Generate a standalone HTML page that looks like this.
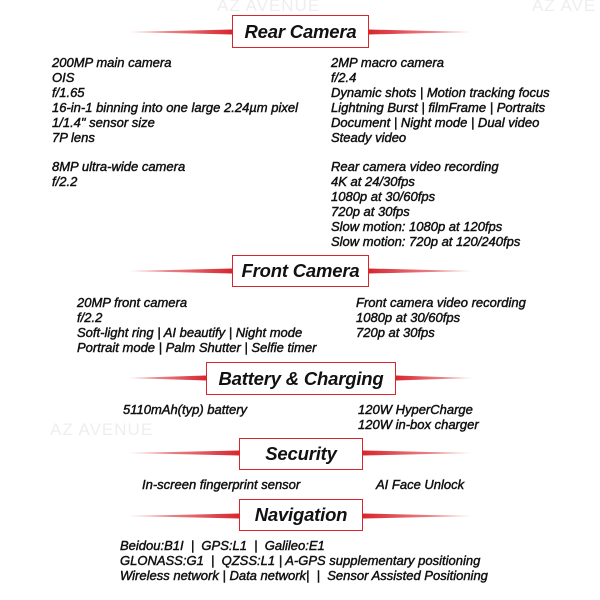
<!DOCTYPE html>
<html><head><meta charset="utf-8"><style>
body{margin:0;width:600px;height:600px;background:#fff;position:relative;overflow:hidden;font-family:"Liberation Sans",sans-serif;}
.t{position:absolute;font-style:italic;font-size:13px;line-height:15px;color:#111;-webkit-text-stroke:0.45px #111;white-space:nowrap;letter-spacing:0px}
.box{position:absolute;border:1.5px solid #d8262e;background:#fff;box-sizing:border-box;display:flex;align-items:center;justify-content:center;font-style:italic;font-weight:bold;font-size:18.5px;color:#111;letter-spacing:-0.2px}
.wm{position:absolute;color:#eee;font-size:17px;letter-spacing:1px}
svg{position:absolute;left:0;top:0}
</style></head><body>
<div class="wm" style="left:217px;top:-4px">AZ AVENUE</div>
<div class="wm" style="left:532px;top:-4px">AZ AVE</div>
<div class="wm" style="left:50px;top:420px">AZ AVENUE</div>
<svg width="600" height="600">
<defs>
<linearGradient id="gl" x1="0" x2="1"><stop offset="0" stop-color="#d8262e" stop-opacity="0.3"/><stop offset="1" stop-color="#d8262e"/></linearGradient>
<linearGradient id="gr" x1="1" x2="0"><stop offset="0" stop-color="#d8262e" stop-opacity="0.3"/><stop offset="1" stop-color="#d8262e"/></linearGradient>
</defs>
<g>
<polygon points="128,32 232,29.5 232,34.5" fill="url(#gl)"/><polygon points="472,32 369,29.5 369,34.5" fill="url(#gr)"/>
<polygon points="128,271 232,268.5 232,273.5" fill="url(#gl)"/><polygon points="472,271 369,268.5 369,273.5" fill="url(#gr)"/>
<polygon points="128,378 206,375.5 206,380.5" fill="url(#gl)"/><polygon points="472,378 396,375.5 396,380.5" fill="url(#gr)"/>
<polygon points="128,453 239,450.5 239,455.5" fill="url(#gl)"/><polygon points="472,453 363,450.5 363,455.5" fill="url(#gr)"/>
<polygon points="128,516 239,513.5 239,518.5" fill="url(#gl)"/><polygon points="472,516 363,513.5 363,518.5" fill="url(#gr)"/>
</g></svg>
<div class="box" style="left:232px;top:15px;width:137px;height:33px">Rear Camera</div>
<div class="box" style="left:232px;top:255px;width:137px;height:32px">Front Camera</div>
<div class="box" style="left:206px;top:362px;width:190px;height:33px">Battery &amp; Charging</div>
<div class="box" style="left:239px;top:438px;width:124px;height:32px">Security</div>
<div class="box" style="left:239px;top:499px;width:124px;height:32px">Navigation</div>

<div class="t" style="left:52px;top:55px">200MP main camera<br>OIS<br>f/1.65<br>16-in-1 binning into one large 2.24µm pixel<br>1/1.4" sensor size<br>7P lens</div>
<div class="t" style="left:52px;top:159px">8MP ultra-wide camera<br>f/2.2</div>
<div class="t" style="left:331px;top:55px">2MP macro camera<br>f/2.4<br>Dynamic shots | Motion tracking focus<br>Lightning Burst | filmFrame | Portraits<br>Document | Night mode | Dual video<br>Steady video</div>
<div class="t" style="left:331px;top:159px">Rear camera video recording<br>4K at 24/30fps<br>1080p at 30/60fps<br>720p at 30fps<br>Slow motion: 1080p at 120fps<br>Slow motion: 720p at 120/240fps</div>
<div class="t" style="left:77px;top:295px">20MP front camera<br>f/2.2<br>Soft-light ring | AI beautify | Night mode<br>Portrait mode | Palm Shutter | Selfie timer</div>
<div class="t" style="left:356px;top:295px">Front camera video recording<br>1080p at 30/60fps<br>720p at 30fps</div>
<div class="t" style="left:123px;top:402px">5110mAh(typ) battery</div>
<div class="t" style="left:358px;top:402px">120W HyperCharge<br>120W in-box charger</div>
<div class="t" style="left:142px;top:477px">In-screen fingerprint sensor</div>
<div class="t" style="left:376px;top:477px">AI Face Unlock</div>
<div class="t" style="left:120px;top:538px">Beidou:B1I &nbsp;| &nbsp;GPS:L1 &nbsp;| &nbsp;Galileo:E1<br>GLONASS:G1 &nbsp;| &nbsp;QZSS:L1 | A-GPS supplementary positioning<br>Wireless network | Data network| &nbsp;| &nbsp;Sensor Assisted Positioning</div>
</body></html>
